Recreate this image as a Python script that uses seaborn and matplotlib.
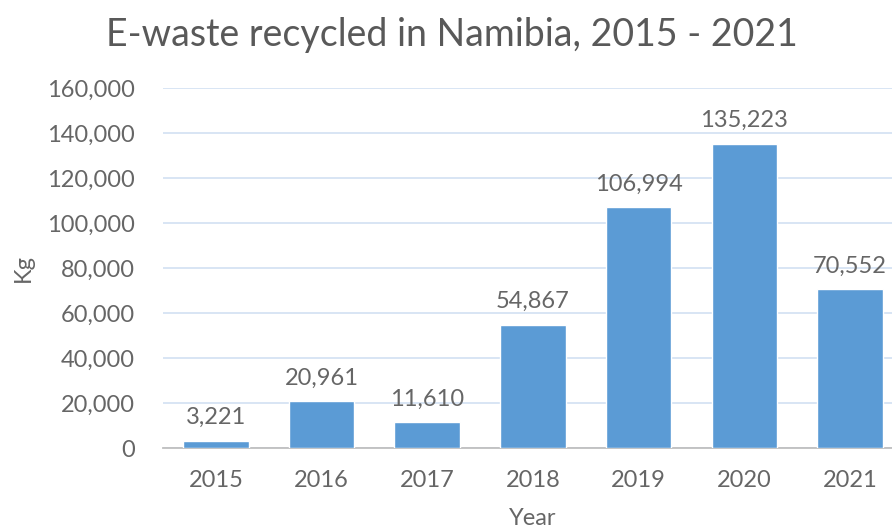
import pandas as pd
import seaborn as sns
import matplotlib.pyplot as plt
from matplotlib.ticker import FuncFormatter

years = ["2015", "2016", "2017", "2018", "2019", "2020", "2021"]
kg = [3221, 20961, 11610, 54867, 106994, 135223, 70552]

df = pd.DataFrame({"Year": years, "Kg": kg})

sns.set_style("white")
plt.rcParams["font.family"] = ["Lato", "DejaVu Sans"]

fig = plt.figure(figsize=(8.92, 5.29), dpi=100)
ax = fig.add_axes([0.1827, 0.1531, 0.8296, 0.6805])

sns.barplot(data=df, x="Year", y="Kg", color="#5B9BD5", saturation=1,
            width=0.62, ax=ax, zorder=3)

ax.set_ylim(0, 160000)
ax.set_yticks(range(0, 160001, 20000))
ax.yaxis.set_major_formatter(FuncFormatter(lambda v, p: f"{int(v):,}"))
ax.grid(axis="y", color="#D6E3F3", linewidth=1.3, zorder=0)
ax.grid(axis="x", visible=False)
for s in ["top", "right", "left"]:
    ax.spines[s].set_visible(False)
ax.spines["bottom"].set_color("#BFBFBF")
ax.spines["bottom"].set_linewidth(1.3)
ax.tick_params(axis="both", length=0, labelsize=17, labelcolor="#666666")
ax.tick_params(axis="x", pad=16)
ax.tick_params(axis="y", pad=20)

for c in ax.containers:
    ax.bar_label(c, labels=[f"{v:,}" for v in kg], padding=9,
                 fontsize=17, color="#666666")

ax.set_xlabel("Year", fontsize=17, color="#666666", labelpad=12)
ax.set_ylabel("Kg", fontsize=17, color="#666666", labelpad=10)

fig.text(0.507, 0.934, "E-waste recycled in Namibia, 2015 - 2021",
         ha="center", va="center", fontsize=27, color="#595959")

fig.savefig("out.png", dpi=100)
